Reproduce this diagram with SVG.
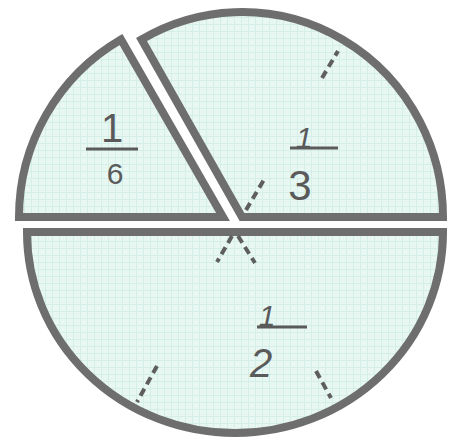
<svg xmlns="http://www.w3.org/2000/svg" width="451" height="444" viewBox="0 0 451 444">
<defs>
<pattern id="tex" width="7" height="7" patternUnits="userSpaceOnUse">
<rect width="7" height="7" fill="#e9f7f3"/>
<path d="M0 3.5H7M3.5 0V7" stroke="#d3efe7" stroke-width="1"/>
</pattern>
<style>
.piece{fill:url(#tex);stroke:#6e6e6e;stroke-width:8;stroke-linejoin:miter;stroke-miterlimit:10}
.dash{fill:none;stroke:#5e5e5e;stroke-width:4;stroke-dasharray:8 5}
.bar{stroke:#5a5a5a;stroke-width:3}
.num{font-family:"Liberation Sans",Arial,sans-serif;fill:#5a5a5a;text-anchor:middle}
.hand{font-family:"Liberation Sans",Arial,sans-serif;font-style:italic;fill:#5a5a5a;text-anchor:middle}
</style>
</defs>
<rect width="451" height="444" fill="#ffffff"/>
<g id="piece-sixth">
<path class="piece" d="M223 217 L19 217 A204 205 0 0 1 121 39.5 Z"/>
<text class="num" x="112" y="142" font-size="40">1</text>
<line class="bar" x1="86" y1="149" x2="138" y2="149"/>
<text class="num" x="115" y="184" font-size="30">6</text>
</g>
<g id="piece-third">
<path class="piece" d="M242 217 L141.5 39.5 A201 205 0 0 1 443 217 Z"/>
<text class="hand" x="304" y="148" font-size="30">1</text>
<line class="bar" x1="290" y1="148" x2="338" y2="148"/>
<text class="num" x="300" y="200" font-size="42">3</text>
</g>
<g id="piece-half">
<path class="piece" d="M27 232 L443 232 A208 201 0 0 1 235 433 A208 201 0 0 1 27 232 Z"/>
<text class="hand" x="267" y="326" font-size="30">1</text>
<line class="bar" x1="257" y1="327" x2="307" y2="327"/>
<text class="hand" x="261" y="377" font-size="40">2</text>
</g>
<g id="connectors">
<line class="dash" x1="246" y1="210" x2="265" y2="178"/>
<line class="dash" x1="322" y1="78" x2="338" y2="51"/>
<line class="dash" x1="232" y1="236" x2="217" y2="262"/>
<line class="dash" x1="238" y1="236" x2="255" y2="263"/>
<line class="dash" x1="157" y1="366" x2="137" y2="402"/>
<line class="dash" x1="316" y1="371" x2="331" y2="398"/>
</g>
</svg>
